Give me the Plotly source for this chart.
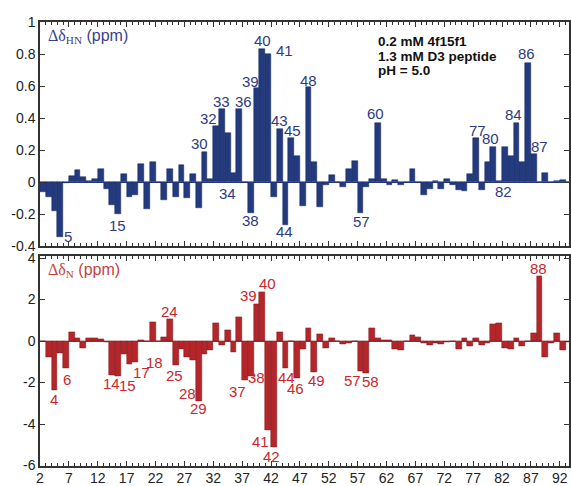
import plotly.graph_objects as go

# ---------------- data ----------------
residues = list(range(2, 94))

d_hn = [-0.06, -0.09, -0.18, -0.34, -0.005, 0.04, 0.075, 0.03, 0.005, 0.02,
        0.085, -0.04, -0.14, -0.2, 0.05, -0.09, -0.08, 0.115, -0.17, 0.125,
        0.0, -0.11, 0.08, -0.09, 0.105, -0.10, 0.05, -0.16, 0.19, 0.02,
        0.35, 0.454, 0.306, 0.056, 0.458, 0.0, -0.19, 0.585, 0.833, 0.80,
        -0.09, 0.333, -0.265, 0.273, 0.163, -0.146, 0.594, 0.125, -0.152, -0.02,
        0.046, 0.0, -0.03, 0.08, 0.13, -0.19, -0.03, 0.02, 0.37, 0.02,
        -0.02, 0.012, -0.02, 0.0, 0.083, 0.0, -0.078, -0.04, 0.005, -0.04,
        0.02, -0.02, -0.05, -0.056, 0.048, 0.277, -0.05, 0.125, 0.222, 0.005,
        0.22, 0.166, 0.37, 0.125, 0.746, 0.178, 0.0, 0.058, 0.0, 0.008,
        0.015, 0.0]

d_n = [0.0, -0.8, -2.37, -0.56, -1.33, 0.45, 0.16, -0.32, 0.16, 0.16,
       0.08, -0.03, -1.63, -1.68, -0.62, -1.1, -1.04, 0.06, 0.0, 0.92,
       0.0, 0.18, 1.04, -1.17, -0.4, -0.8, -0.93, -2.88, -0.64, -0.42,
       0.88, -0.19, 0.51, -0.53, 1.17, -1.89, -1.71, 1.8, 2.36, -4.29,
       -5.13, 0.45, -1.31, 0.0, -1.79, -0.4, 0.61, -1.49, 0.32, -0.32,
       0.16, 0.0, -0.16, -0.1, 0.0, -1.44, -1.55, 0.6, 0.16, 0.03,
       0.02, -0.37, -0.45, 0.0, 0.27, 0.19, -0.08, -0.19, -0.11, -0.13,
       -0.03, 0.0, -0.38, 0.16, -0.27, 0.16, -0.19, -0.1, 0.8, 0.88,
       -0.32, -0.38, 0.13, -0.26, 0.0, 0.4, 3.12, -0.8, -0.08, 0.37,
       -0.43, -0.05]

hn_labels = [5, 15, 30, 32, 33, 34, 36, 38, 39, 40, 41, 43, 44, 45, 48, 57,
             60, 77, 80, 82, 84, 86, 87]
n_labels = [4, 6, 14, 15, 17, 18, 24, 25, 28, 29, 37, 38, 39, 40, 41, 42, 44,
            46, 49, 57, 58, 88]

x_ticks = list(range(2, 93, 5))
hn_ticks = [1, 0.8, 0.6, 0.4, 0.2, 0, -0.2, -0.4]
hn_tick_text = ["1", "0.8", "0.6", "0.4", "0.2", "0", "-0.2", "-0.4"]
n_ticks = [4, 2, 0, -2, -4, -6]
n_tick_text = ["4", "2", "0", "-2", "-4", "-6"]

conditions = ["0.2 mM 4f15f1", "1.3 mM D3 peptide", "pH = 5.0"]

# ---------------- style ----------------
BLUE = "#233a7e"
BLUE_TXT = "#2e3b82"
RED = "#b5262b"
RED_TXT = "#c8282d"
FRAME = "#333333"
FONT = "Liberation Sans"

# label offsets (px): residue -> (xshift, yshift, anchor at zero line?)
hn_off = {5: (8, 0, False), 15: (0, -11, False), 30: (-5, 8, False),
          32: (-8, 8, False), 33: (0, 8, False), 34: (0, -11, True),
          36: (4, 7, False), 38: (0, -8, False), 39: (-6, 7, False),
          40: (0, 8, False), 41: (16, 4, False), 43: (0, 8, False),
          44: (-1, -7, False), 45: (1, 8, False), 48: (0, 7, False),
          57: (1, -9, False), 60: (-2, 9, False), 77: (1, 7, False),
          80: (-3, 8, False), 82: (-1, -9, True), 84: (-3, 8, False),
          86: (-2, 9, False), 87: (6, 7, False)}
n_off = {4: (0, -9), 6: (1, -11), 14: (-1, -9), 15: (10, -10), 17: (12, -9),
         18: (19, 0), 24: (0, 8), 25: (-1, -10), 28: (-6, -33), 29: (0, -8),
         37: (-8, -11), 38: (6, -1), 39: (-8, 8), 40: (5, 9), 41: (-8, -11),
         42: (-2, -9), 44: (1, -9), 46: (-1, -10), 49: (2, -9), 57: (-8, -10),
         58: (4, -8), 88: (-1, 8)}

fig = go.Figure()
fig.add_trace(go.Bar(x=residues, y=d_hn, offset=0, width=1,
                     marker=dict(color=BLUE, line=dict(color="#14265c", width=0.5)),
                     xaxis="x", yaxis="y", showlegend=False))
fig.add_trace(go.Bar(x=residues, y=d_n, offset=0, width=1,
                     marker=dict(color=RED, line=dict(color="#7a1418", width=0.5)),
                     xaxis="x2", yaxis="y2", showlegend=False))

annotations = []
val_hn = dict(zip(residues, d_hn))
val_n = dict(zip(residues, d_n))
for r in hn_labels:
    xs, ys, zero = hn_off[r]
    annotations.append(dict(x=r + 0.5, y=0 if zero else val_hn[r], xref="x", yref="y",
                            text=str(r), showarrow=False, xshift=xs, yshift=ys,
                            xanchor="center", yanchor="middle",
                            font=dict(family=FONT, size=15, color=BLUE_TXT)))
for r in n_labels:
    xs, ys = n_off[r]
    annotations.append(dict(x=r + 0.5, y=val_n[r], xref="x2", yref="y2",
                            text=str(r), showarrow=False, xshift=xs, yshift=ys,
                            xanchor="center", yanchor="middle",
                            font=dict(family=FONT, size=15, color=RED_TXT)))

annotations.append(dict(x=0.012, y=0.985, xref="x domain", yref="y domain",
                        xanchor="left", yanchor="top", showarrow=False,
                        text='<span style="font-family:Liberation Serif">Δδ<sub>HN</sub></span> (ppm)',
                        font=dict(family=FONT, size=16, color="#3b3f8c")))
annotations.append(dict(x=0.012, y=0.985, xref="x2 domain", yref="y2 domain",
                        xanchor="left", yanchor="top", showarrow=False,
                        text='<span style="font-family:Liberation Serif">Δδ<sub>N</sub></span> (ppm)',
                        font=dict(family=FONT, size=16, color="#c8413f")))
for i, line in enumerate(conditions):
    annotations.append(dict(x=0.636, y=0.914 - i * 0.066, xref="x domain", yref="y domain",
                            xanchor="left", yanchor="middle", showarrow=False,
                            text="<b>%s</b>" % line,
                            font=dict(family=FONT, size=13.5, color="#111111")))

axis_common = dict(showline=True, linecolor=FRAME, linewidth=1.5, mirror="ticks",
                   ticks="inside", tickcolor=FRAME, showgrid=False,
                   tickfont=dict(family=FONT, size=14, color="#222222"))

fig.update_layout(
    width=571, height=486,
    margin=dict(l=40, r=0, t=22, b=19),
    paper_bgcolor="white", plot_bgcolor="white",
    bargap=0, annotations=annotations,
    xaxis=dict(domain=[0, 1], range=[2, 93.6], anchor="y", tickvals=x_ticks,
               showticklabels=False, ticklen=5,
               minor=dict(dtick=1, tick0=2, ticks="inside", ticklen=3, tickcolor=FRAME),
               zeroline=False, **axis_common),
    yaxis=dict(domain=[0.495, 1], range=[-0.4, 1.0], anchor="x", tickvals=hn_ticks,
               ticktext=hn_tick_text, ticklen=5, zeroline=True, zerolinecolor="#2b3a78",
               zerolinewidth=1, **axis_common),
    xaxis2=dict(domain=[0, 1], range=[2, 93.6], anchor="y2", tickvals=x_ticks,
                ticktext=[str(t) for t in x_ticks], ticklen=5, ticklabelstandoff=-2,
                minor=dict(dtick=1, tick0=2, ticks="inside", ticklen=3, tickcolor=FRAME),
                zeroline=False, **axis_common),
    yaxis2=dict(domain=[0, 0.4726], range=[-6.02, 4.09], anchor="x2", tickvals=n_ticks,
                ticktext=n_tick_text, ticklen=5, zeroline=True, zerolinecolor="#555555",
                zerolinewidth=1, **axis_common),
)

fig.write_html("out.html", config={"displayModeBar": False},
               post_script="document.body.style.margin='0';document.body.style.overflow='hidden';")
